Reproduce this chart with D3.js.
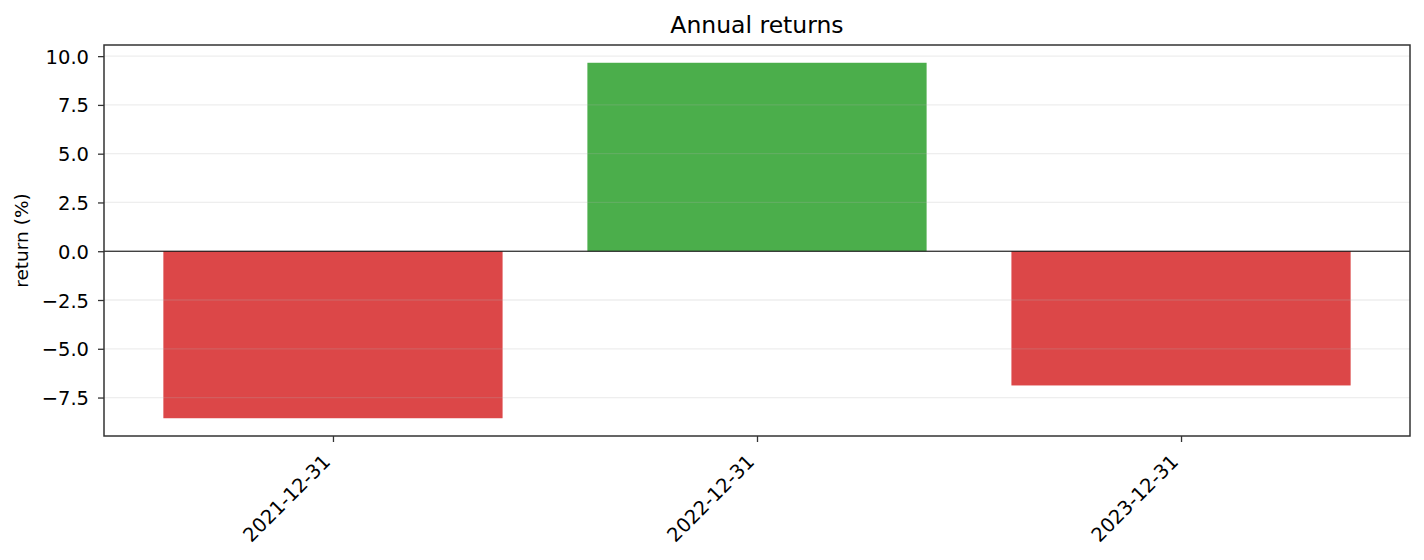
<!DOCTYPE html>
<html>
<head>
<meta charset="utf-8">
<script src="https://cdn.jsdelivr.net/npm/d3@7"></script>
<style>
  body { margin: 0; background: #fff; }
  text { font-family: "DejaVu Sans", sans-serif; fill: #000; }
</style>
</head>
<body>
<div id="chart"></div>
<script>
var years = ["2021-12-31", "2022-12-31", "2023-12-31"];
var returns = [-8.56, 9.66, -6.88];
var yTicks = [-7.5, -5.0, -2.5, 0.0, 2.5, 5.0, 7.5, 10.0];

var svgWidth = 1424;
var svgHeight = 560;

var margin = { top: 45, right: 14, bottom: 124, left: 104 };
var width = svgWidth - margin.left - margin.right;
var height = svgHeight - margin.top - margin.bottom;

var svg = d3.select("#chart")
  .append("svg")
  .attr("width", svgWidth)
  .attr("height", svgHeight);

var chartGroup = svg.append("g")
  .attr("transform", `translate(${margin.left}, ${margin.top})`);

// x: bar positions 0..n-1, bar width 0.8, 5% margins like matplotlib
var barW = 0.8;
var xPad = ((years.length - 1) + barW) * 0.05;
var xScale = d3.scaleLinear()
  .domain([-barW / 2 - xPad, years.length - 1 + barW / 2 + xPad])
  .range([0, width]);

var yMin = d3.min(returns), yMax = d3.max(returns);
var yPad = (yMax - yMin) * 0.05;
var yScale = d3.scaleLinear()
  .domain([yMin - yPad, yMax + yPad])
  .range([height, 0]);

// bars
chartGroup.selectAll("rect.bar")
  .data(returns)
  .enter()
  .append("rect")
  .attr("class", "bar")
  .attr("x", (d, i) => xScale(i - barW / 2))
  .attr("width", (d, i) => xScale(i + barW / 2) - xScale(i - barW / 2))
  .attr("y", d => yScale(Math.max(0, d)))
  .attr("height", d => Math.abs(yScale(d) - yScale(0)))
  .attr("fill", d => d >= 0 ? "#2ca02c" : "#d62728")
  .attr("fill-opacity", 0.85);

// grid
chartGroup.selectAll("line.grid")
  .data(yTicks)
  .enter()
  .append("line")
  .attr("class", "grid")
  .attr("x1", 0)
  .attr("x2", width)
  .attr("y1", d => yScale(d))
  .attr("y2", d => yScale(d))
  .attr("stroke", "#b0b0b0")
  .attr("stroke-opacity", 0.22)
  .attr("stroke-width", 1.3);

// zero line
chartGroup.append("line")
  .attr("x1", 0)
  .attr("x2", width)
  .attr("y1", yScale(0))
  .attr("y2", yScale(0))
  .attr("stroke", "#000")
  .attr("stroke-width", 1);

// axes
var leftAxis = d3.axisLeft(yScale)
  .tickValues(yTicks)
  .tickSize(6)
  .tickPadding(9)
  .tickFormat(d => d3.format(".1f")(d).replace("-", "\u2212"));

var bottomAxis = d3.axisBottom(xScale)
  .tickValues(d3.range(years.length))
  .tickSize(6)
  .tickFormat(i => years[i]);

var yAxisG = chartGroup.append("g").call(leftAxis);
yAxisG.select(".domain").remove();
yAxisG.selectAll("text")
  .style("font-size", "19.5px")
  .attr("dy", "0.36em");

var xAxisG = chartGroup.append("g")
  .attr("transform", `translate(0, ${height})`)
  .call(bottomAxis);
xAxisG.select(".domain").remove();
xAxisG.selectAll("text")
  .style("font-size", "19.5px")
  .style("text-anchor", "end")
  .attr("y", 0)
  .attr("dy", 0)
  .attr("transform", "translate(-2, 27) rotate(-45)");

chartGroup.selectAll(".tick line")
  .attr("stroke", "#333")
  .attr("stroke-width", 1.3);

// frame
chartGroup.append("rect")
  .attr("x", 0)
  .attr("y", 0)
  .attr("width", width)
  .attr("height", height)
  .attr("fill", "none")
  .attr("stroke", "#333")
  .attr("stroke-width", 1.5);

// title and label
svg.append("text")
  .attr("x", margin.left + width / 2)
  .attr("y", 33)
  .attr("text-anchor", "middle")
  .style("font-size", "23.5px")
  .text("Annual returns");

svg.append("text")
  .attr("transform", `translate(28, ${margin.top + height / 2}) rotate(-90)`)
  .attr("text-anchor", "middle")
  .style("font-size", "18.5px")
  .text("return (%)");
</script>
</body>
</html>
